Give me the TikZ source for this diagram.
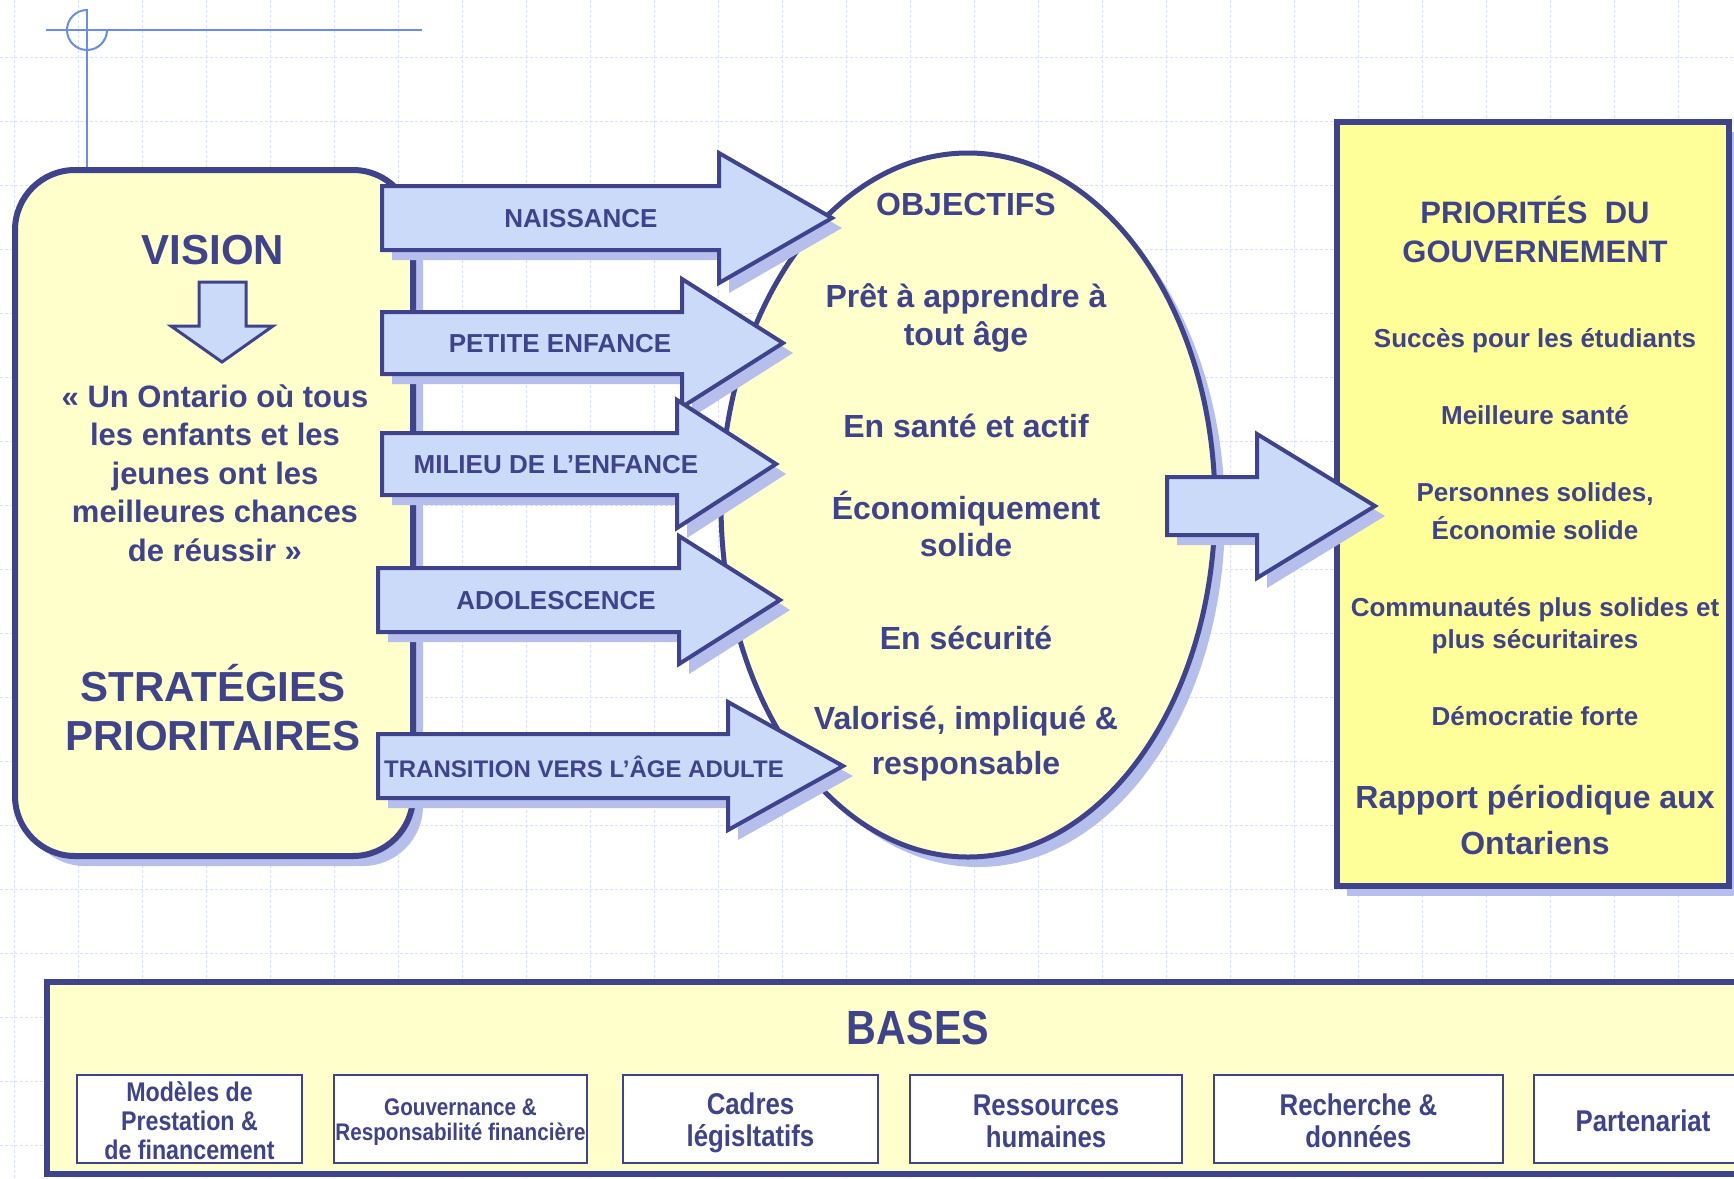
\documentclass[tikz,border=0pt]{standalone}
\usepackage{fontspec}
\setmainfont{Liberation Sans}
\newfontfamily\narrowfont{Liberation Sans}[FakeStretch=0.86]
\usetikzlibrary{shapes.geometric,shadows}
\definecolor{navy}{HTML}{3F438C}
\definecolor{armfill}{HTML}{CCDAFA}
\definecolor{shadowblue}{HTML}{B6BEEC}
\definecolor{paleyel}{HTML}{FFFFCC}
\definecolor{brightyel}{HTML}{FFFF99}
\definecolor{gridc}{HTML}{D6E0FF}
\definecolor{crossc}{HTML}{6A8CF0}
\tikzset{
  gridline/.style={gridc, line width=1pt, dash pattern=on 3pt off 2pt},
  crossline/.style={crossc, line width=2pt},
  dshadow/.style={drop shadow={shadow xshift=10pt, shadow yshift=-10pt, fill=shadowblue, opacity=1}},
  blockarrow/.style={draw=navy, line width=4pt, fill=armfill, line join=miter, dshadow},
  txt/.style={text=navy, align=center, inner sep=0pt},
  armlbl/.style={txt, font=\bfseries\fontsize{26}{30}\selectfont},
  bigtitle/.style={txt, font=\bfseries\fontsize{42}{49}\selectfont},
  objtxt/.style={txt, font=\bfseries\fontsize{32}{37.6}\selectfont},
  pritxt/.style={txt, font=\bfseries\fontsize{26}{38}\selectfont},
  basebox/.style={draw=navy, line width=2pt, fill=white, inner sep=0pt, minimum height=88pt},
  basetxt/.style={txt, yshift=-4pt, font=\narrowfont\bfseries\fontsize{30}{32}\selectfont},
}
\newcommand{\blockarr}[6]{% x0, head base x, tip x, mid y, body half, head half
  \draw[blockarrow] (#1,{#4-#5}) -- (#2,{#4-#5}) -- (#2,{#4-#6}) -- (#3,#4)
    -- (#2,{#4+#6}) -- (#2,{#4+#5}) -- (#1,{#4+#5}) -- cycle;}
\begin{document}
\begin{tikzpicture}[x=1pt,y=-1pt]
\useasboundingbox (0,0) rectangle (1734,1178);
% background grid
\foreach \gx in {14,78,...,1734} \draw[gridline] (\gx,0) -- (\gx,1178);
\foreach \gy in {57,121,...,1178} \draw[gridline] (0,\gy) -- (1734,\gy);
% crosshair
\draw[crossline] (46,30) -- (422,30);
\draw[crossline] (87,9) -- (87,168);
\draw[crossline] (87,10) arc[start angle=270, end angle=0, radius=20];
% vision box
\node[draw=navy, line width=6pt, fill=paleyel, rounded corners=60pt,
      minimum width=398pt, minimum height=686pt, inner sep=0pt, dshadow] (vision) at (214,513) {};
\node[bigtitle] (visiont) at (213,250) {VISION};
\draw[draw=navy, line width=3pt, fill=armfill, line join=miter]
  (199,282) -- (246,282) -- (246,326) -- (273,326) -- (222,362) -- (171,326) -- (199,326) -- cycle;
\node[txt, font=\bfseries\fontsize{31}{38.5}\selectfont] (quote) at (215,473)
  {« Un Ontario où tous\\les enfants et les\\jeunes ont les\\meilleures chances\\de réussir »};
\node[bigtitle] (strat) at (213,708) {STRATÉGIES\\PRIORITAIRES};
% objectives ellipse
\node[ellipse, draw=navy, line width=5pt, fill=paleyel,
      minimum width=494pt, minimum height=704pt, inner sep=0pt, dshadow] (obj) at (968,505) {};
% right box
\node[draw=navy, line width=6pt, fill=brightyel, minimum width=392pt, minimum height=764pt,
      inner sep=0pt, dshadow] (prio) at (1533,504) {};
% life stage arrows
\blockarr{382}{719}{832}{218}{32}{65}
\node[armlbl] (naiss) at (581,219) {NAISSANCE};
\blockarr{382}{682}{783}{343}{31}{64}
\node[armlbl] (petite) at (560,344) {PETITE ENFANCE};
\blockarr{382}{677}{776}{464}{31}{64}
\node[armlbl] (milieu) at (556,465) {MILIEU DE L’ENFANCE};
\blockarr{378}{679}{780}{600}{32}{64}
\node[armlbl] (ado) at (556,601) {ADOLESCENCE};
\blockarr{378}{728}{843}{766}{32}{64}
\node[armlbl, font=\bfseries\fontsize{24}{28}\selectfont] (trans) at (584,767) {TRANSITION VERS L’ÂGE ADULTE};
% big arrow
\blockarr{1167}{1257}{1375}{506}{29}{72}
% ellipse texts
\node[objtxt] (objt) at (966,204) {OBJECTIFS};
\node[objtxt] (o1) at (966,318) {Prêt à apprendre à\\tout âge};
\node[objtxt] (o2) at (966,426) {En santé et actif};
\node[objtxt] (o3) at (966,524) {Économiquement\\solide};
\node[objtxt] (o4) at (966,638) {En sécurité};
\node[objtxt, font=\bfseries\fontsize{32}{45}\selectfont] (o5) at (966,744) {Valorisé, impliqué \&\\responsable};
% priorities texts
\node[txt, font=\bfseries\fontsize{31}{39}\selectfont] (priot) at (1535,229) {PRIORITÉS\ \ DU\\GOUVERNEMENT};
\node[pritxt] (p1) at (1535,341) {Succès pour les étudiants};
\node[pritxt] (p2) at (1535,415) {Meilleure santé};
\node[pritxt] (p3) at (1535,511) {Personnes solides,\\Économie solide};
\node[pritxt, font=\bfseries\fontsize{26}{32}\selectfont] (p4) at (1535,626) {Communautés plus solides et\\plus sécuritaires};
\node[pritxt] (p5) at (1535,716) {Démocratie forte};
\node[txt, font=\bfseries\fontsize{32}{46}\selectfont] (p6) at (1535,820) {Rapport périodique aux\\Ontariens};
% bases
\node[draw=navy, line width=6pt, fill=paleyel, minimum width=1713pt, minimum height=192pt, inner sep=0pt] (bases) at (903.5,1078) {};
\node[txt, font=\narrowfont\bfseries\fontsize{48}{52}\selectfont] (basest) at (918,1028) {BASES};
\node[basebox, minimum width=225pt] (b1) at (189.5,1119) {};
\node[basebox, minimum width=253pt] (b2) at (460.5,1119) {};
\node[basebox, minimum width=255pt] (b3) at (750.5,1119) {};
\node[basebox, minimum width=272pt] (b4) at (1046,1119) {};
\node[basebox, minimum width=289pt] (b5) at (1358.5,1119) {};
\node[basebox, minimum width=226pt] (b6) at (1647,1119) {};
\node[basetxt, font=\narrowfont\bfseries\fontsize{27}{29}\selectfont, yshift=2pt] (b1t) at (b1) {Modèles de\\Prestation \&\\de financement};
\node[basetxt, font=\narrowfont\bfseries\fontsize{24}{25.5}\selectfont, yshift=1pt] (b2t) at (b2) {Gouvernance \&\\Responsabilité financière};
\node[basetxt] (b3t) at (b3) {Cadres\\législtatifs};
\node[basetxt, yshift=2pt] (b4t) at (b4) {Ressources\\humaines};
\node[basetxt, yshift=2pt] (b5t) at (b5) {Recherche \&\\données};
\node[basetxt, xshift=-4pt, yshift=2pt] (b6t) at (b6) {Partenariat};
\end{tikzpicture}
\end{document}
